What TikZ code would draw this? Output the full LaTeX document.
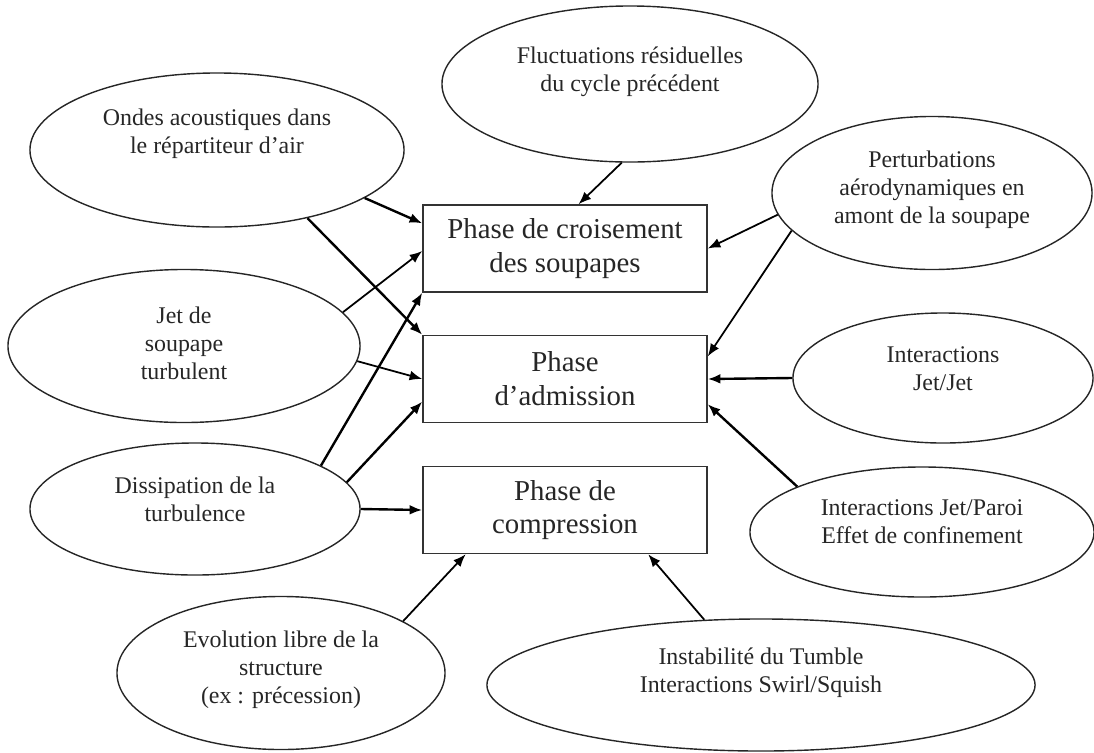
\documentclass[tikz,border=0pt]{standalone}
\usepackage{fontspec}
\setmainfont{Liberation Serif}
\usetikzlibrary{shapes.geometric, arrows.meta}

\begin{document}
\begin{tikzpicture}[x=0.025cm, y=-0.025cm,
     phase/.style={rectangle, draw=black!80, line width=1pt, minimum width=7.1cm, minimum height=2.175cm, inner sep=0pt, align=center, text=black!85, font=\fontsize{20.5}{24}\selectfont},
     bulle/.style={ellipse, draw=black!85, line width=1pt, inner sep=0pt},
     texte/.style={align=center, inner sep=0pt, text=black!85, font=\fontsize{17}{20}\selectfont},
     fleche/.style={-{Latex[length=9pt,width=7pt]}, line width=1.7pt},
     flechefine/.style={-{Latex[length=9pt,width=7pt]}, line width=1.25pt}]
     \useasboundingbox (0,0) rectangle (1094,752);

     \node[phase] (croisement) at (565,248.5) {Phase de croisement\\des soupapes};
     \node[phase] (admission) at (565,379) {Phase\\d'admission};
     \node[phase] (compression) at (565,510) {Phase de\\compression};

     \node[bulle, minimum width=9.4cm, minimum height=3.9cm] (fluct) at (630,84) {};
     \node[bulle, minimum width=9.35cm, minimum height=3.85cm] (ondes) at (217,150) {};
     \node[bulle, minimum width=8cm, minimum height=3.825cm] (perturb) at (932,193) {};
     \node[bulle, minimum width=8.8cm, minimum height=3.825cm] (jet) at (184,346) {};
     \node[bulle, minimum width=7.5cm, minimum height=3.25cm] (jetjet) at (943,378) {};
     \node[bulle, minimum width=8.25cm, minimum height=3.3cm] (dissip) at (195,509) {};
     \node[bulle, minimum width=8.6cm, minimum height=3.25cm] (paroi) at (922,532) {};
     \node[bulle, minimum width=8.2cm, minimum height=3.825cm] (evol) at (281,673) {};
     \node[bulle, minimum width=13.7cm, minimum height=3.3cm] (instab) at (761,685) {};

     \node[texte] (fluct-t) at (630,72) {Fluctuations résiduelles\\du cycle précédent};
     \node[texte] (ondes-t) at (217,134) {Ondes acoustiques dans\\le répartiteur d'air};
     \node[texte] (perturb-t) at (932,190) {Perturbations\\aérodynamiques en\\amont de la soupape};
     \node[texte] (jet-t) at (184,343) {Jet de\\soupape\\turbulent};
     \node[texte] (jetjet-t) at (943,369) {Interactions\\Jet/Jet};
     \node[texte] (dissip-t) at (195,499) {Dissipation de la\\turbulence};
     \node[texte] (paroi-t) at (922,522) {Interactions Jet/Paroi\\Effet de confinement};
     \node[texte] (evol-t) at (281,670) {Evolution libre de la\\structure\\(ex : précession)};
     \node[texte] (instab-t) at (761,673) {Instabilité du Tumble\\Interactions Swirl/Squish};

     \draw[flechefine] (fluct.-96) -- (croisement.73.4);
     \draw[fleche] (ondes.-18) -- (croisement.170.6);
     \draw[fleche] (ondes.-37) -- (admission.north west);
     \draw[flechefine] (jet.12.3) -- (croisement.181);
     \draw[flechefine] (jet.-5.7) -- (admission.west);
     \draw[fleche] (dissip.19.8) -- (croisement.south west);
     \draw[fleche] (dissip.10.3) -- (admission.189.6);
     \draw[fleche] (dissip.east) -- (compression.west);
     \draw[flechefine] (evol.23.7) -- (compression.-156.3);
     \draw[flechefine] (perturb.188.1) -- (croisement.east);
     \draw[flechefine] (perturb.195.6) -- (admission.9.6);
     \draw[fleche] (jetjet.west) -- (admission.east);
     \draw[fleche] (paroi.160.9) -- (admission.-10);
     \draw[flechefine] (instab.131.5) -- (compression.-28.3);
\end{tikzpicture}
\end{document}
